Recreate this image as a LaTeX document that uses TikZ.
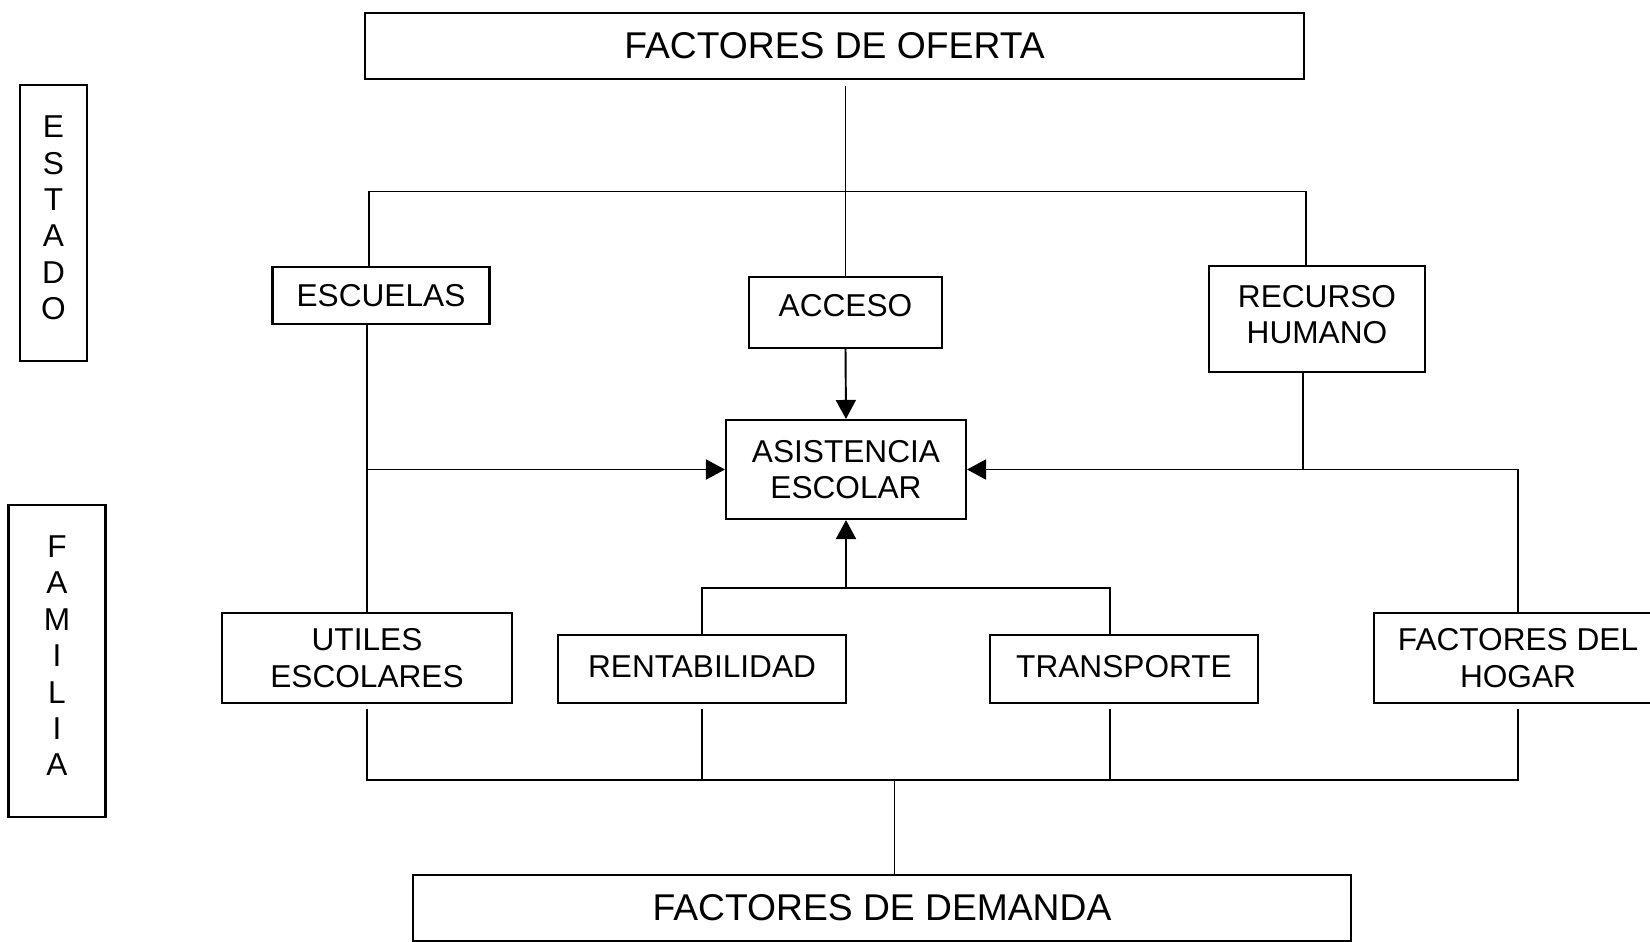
\documentclass[tikz,border=0pt]{standalone}
\usepackage{fontspec}
\setmainfont{Liberation Sans}
\usetikzlibrary{arrows.meta}
\tikzset{
    factor/.style = {draw, line width=1.2pt, inner sep=0pt, align=center,
        font=\fontsize{18}{20.7}\selectfont},
    bigfactor/.style = {factor, font=\fontsize{21.2}{24}\selectfont},
    link/.style = {line width=1.1pt},
    feed/.style = {link, -{Triangle[length=0.38cm, width=0.4cm]}},
}

\begin{document}
\begin{tikzpicture}[x=0.02cm, y=-0.02cm]
\useasboundingbox (0,0) rectangle (1650,941);

\node(oferta)[bigfactor, minimum width=18.78cm, minimum height=1.32cm] at (834.5,46) {FACTORES DE OFERTA};
\node(demanda)[bigfactor, minimum width=18.76cm, minimum height=1.32cm] at (882,908) {FACTORES DE DEMANDA};

\node(estado)[factor, minimum width=1.34cm, minimum height=5.52cm, text depth=0.21cm] at (53.5,223) {E\\S\\T\\A\\D\\O};
\node(familia)[factor, minimum width=1.94cm, minimum height=6.24cm, text depth=0.21cm] at (57,661) {F\\A\\M\\I\\L\\I\\A};

\node(escuelas)[factor, minimum width=4.34cm, minimum height=1.14cm] at (381,295.5) {ESCUELAS};
\node(acceso)[factor, minimum width=3.86cm, minimum height=1.42cm, text depth=0.28cm] at (845.5,312.5) {ACCESO};
\node(recurso)[factor, minimum width=4.32cm, minimum height=2.12cm, text depth=0.17cm] at (1317,319) {RECURSO\\HUMANO};
\node(asistencia)[factor, minimum width=4.8cm, minimum height=1.98cm] at (846,469.5) {ASISTENCIA\\ESCOLAR};

\node(utiles)[factor, minimum width=5.8cm, minimum height=1.81cm] at (367,658) {UTILES\\ESCOLARES};
\node(rentab)[factor, minimum width=5.76cm, minimum height=1.35cm, text depth=0.1cm] at (702,669) {RENTABILIDAD};
\node(transp)[factor, minimum width=5.36cm, minimum height=1.35cm, text depth=0.1cm] at (1124,669) {TRANSPORTE};
\node(hogar)[factor, minimum width=5.76cm, minimum height=1.81cm] at (1518,658) {FACTORES DEL\\HOGAR};

\coordinate (busL) at (369,191.5);
\coordinate (busR) at (1306,191.5);
\coordinate (joinR) at (1303,469.5);
\coordinate (joinT) at (1110,588);
\coordinate (busB) at (894.5,780);

% oferta
\draw[link, shorten <=0.12cm] (acceso.north |- oferta.south) -- (acceso.north);
\draw[link] (busL |- escuelas.north) -- (busL) -- (busR) -- (busR |- recurso.north);
\draw[feed] (acceso.south) -- (asistencia.north);

% laterales
\draw[link] (escuelas.south -| utiles.north) -- (utiles.north);
\draw[feed] (utiles.north |- asistencia.west) -- (asistencia.west);
\draw[link] (recurso.south -| joinR) -- (joinR);
\draw[feed] (hogar.north) -- (hogar.north |- asistencia.east) -- (asistencia.east);

% centro
\draw[link] (rentab.north) |- (joinT) -- (joinT |- transp.north);
\draw[feed] (asistencia.south |- joinT) -- (asistencia.south);

% demanda
\draw[link] ([yshift=-0.1cm]utiles.south) -- (utiles.south |- busB) -- (hogar.south |- busB) -- ([yshift=-0.1cm]hogar.south);
\draw[link] ([yshift=-0.1cm]rentab.south) -- (rentab.south |- busB);
\draw[link] ([yshift=-0.1cm]transp.south -| joinT) -- (joinT |- busB);
\draw[link] (busB) -- (busB |- demanda.north);

\end{tikzpicture}
\end{document}
